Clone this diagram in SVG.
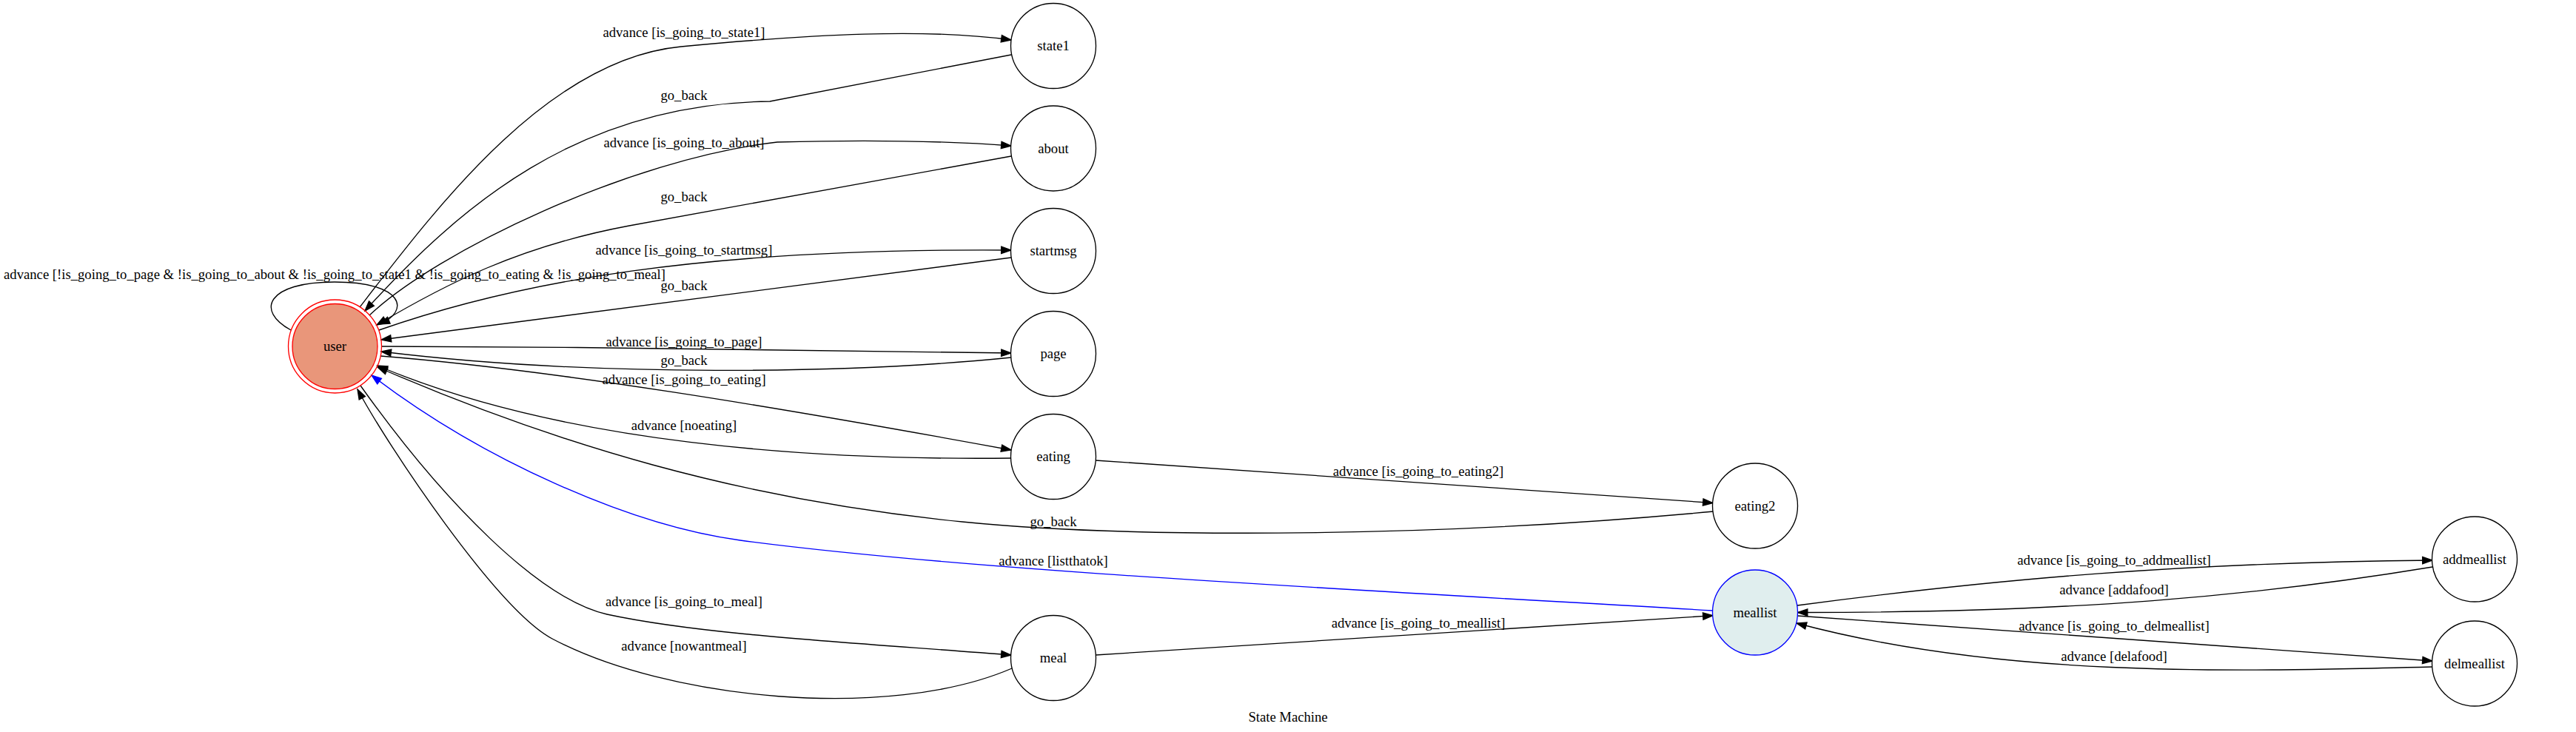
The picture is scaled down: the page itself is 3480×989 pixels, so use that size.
<svg xmlns="http://www.w3.org/2000/svg" width="3480" height="989" viewBox="0 0 3480 989">
<style>
text{font-family:"Liberation Serif","Times New Roman",serif;font-size:18.67px;fill:#000;text-anchor:middle}
.n{fill:#fff;stroke:#000;stroke-width:1.33}
.e{fill:none;stroke:#000;stroke-width:1.33;marker-end:url(#ah)}
.b{fill:none;stroke:#0000ff;stroke-width:1.33;marker-end:url(#ahb)}
</style>
<defs>
<marker id="ah" markerUnits="userSpaceOnUse" markerWidth="16" markerHeight="12" refX="13.33" refY="4.67" orient="auto" overflow="visible">
<path d="M0,0 L13.33,4.67 L0,9.33 z" fill="#000" stroke="#000" stroke-width="1.33"/>
</marker>
<marker id="ahb" markerUnits="userSpaceOnUse" markerWidth="16" markerHeight="12" refX="13.33" refY="4.67" orient="auto" overflow="visible">
<path d="M0,0 L13.33,4.67 L0,9.33 z" fill="#0000ff" stroke="#0000ff" stroke-width="1.33"/>
</marker>
</defs>
<rect x="0" y="0" width="3480" height="989" fill="#fff"/>
<g id="edges">
<path class="e" d="M486,415 C590,280 740,80 920,63 S1250,38 1366,54"/>
<text x="924" y="50">advance [is_going_to_state1]</text>
<path class="e" d="M1366,74 L1040,137 C780,140 620,280 493,420"/>
<text x="924" y="135">go_back</text>
<path class="e" d="M499,426 C590,340 850,215 1050,192 C1200,188 1300,192 1366,197"/>
<text x="924" y="199">advance [is_going_to_about]</text>
<path class="e" d="M1366,211 L850,305 C700,333 600,385 509,439"/>
<text x="924" y="272">go_back</text>
<path class="e" d="M393,446 C345,420 360,381 452,381 C545,381 555,420 513,438"/>
<text x="452" y="377">advance [!is_going_to_page &amp; !is_going_to_about &amp; !is_going_to_state1 &amp; !is_going_to_eating &amp; !is_going_to_meal]</text>
<path class="e" d="M512,446 C700,380 950,335 1366,338"/>
<text x="924" y="344">advance [is_going_to_startmsg]</text>
<path class="e" d="M1366,348 L515,459"/>
<text x="924" y="392">go_back</text>
<path class="e" d="M515,468 C800,469 1100,472 1366,477"/>
<text x="924" y="468">advance [is_going_to_page]</text>
<path class="e" d="M1366,483 C1150,505 800,510 515,475"/>
<text x="924" y="493">go_back</text>
<path class="e" d="M514,481 C750,500 1050,550 1366,608"/>
<text x="924" y="519">advance [is_going_to_eating]</text>
<path class="e" d="M1366,619 C1100,622 760,600 510,494"/>
<text x="924" y="581">advance [noeating]</text>
<path class="e" d="M2315,691 C1900,730 1500,725 1300,705 C1000,675 750,600 510,496"/>
<text x="1423" y="711">go_back</text>
<path class="e" d="M1480,622 L2314,679.5"/>
<text x="1916" y="643">advance [is_going_to_eating2]</text>
<path class="b" d="M2315,825 C1800,795 1300,770 1000,730 C850,710 650,620 502,507"/>
<text x="1423" y="764">advance [listthatok]</text>
<path class="e" d="M487,521 C600,680 730,810 820,830 C950,858 1150,868 1366,885"/>
<text x="924" y="819">advance [is_going_to_meal]</text>
<path class="e" d="M1367,903 C1200,975 900,945 746,863 C671,823 523,601 483,526"/>
<text x="924" y="879">advance [nowantmeal]</text>
<path class="e" d="M1480,885 L2314,831.7"/>
<text x="1916" y="848">advance [is_going_to_meallist]</text>
<path class="e" d="M2428,818 C2700,782 2950,760 3286,757"/>
<text x="2856" y="763">advance [is_going_to_addmeallist]</text>
<path class="e" d="M3286,766 C3050,805 2800,828 2428.5,827.5"/>
<text x="2856" y="803">advance [addafood]</text>
<path class="e" d="M2428,832 L3286,893"/>
<text x="2856" y="852">advance [is_going_to_delmeallist]</text>
<path class="e" d="M3286,901 C3000,908 2700,915 2427,842"/>
<text x="2856" y="893">advance [delafood]</text>
</g>
<g id="user">
<circle cx="452.5" cy="468" r="63" fill="none" stroke="#ff0000" stroke-width="1.33"/>
<circle cx="452.5" cy="468" r="57.5" fill="#e9967a" stroke="#ff0000" stroke-width="1.33"/>
<text x="452.5" y="474">user</text>
</g>
<g id="state1"><circle class="n" cx="1423" cy="62" r="57.5"/><text x="1423" y="68">state1</text></g>
<g id="about"><circle class="n" cx="1423" cy="200.5" r="57.5"/><text x="1423" y="206.5">about</text></g>
<g id="startmsg"><circle class="n" cx="1423" cy="339" r="57.5"/><text x="1423" y="345">startmsg</text></g>
<g id="page"><circle class="n" cx="1423" cy="478" r="57.5"/><text x="1423" y="484">page</text></g>
<g id="eating"><circle class="n" cx="1423" cy="617" r="57.5"/><text x="1423" y="623">eating</text></g>
<g id="meal"><circle class="n" cx="1423" cy="889" r="57.5"/><text x="1423" y="895">meal</text></g>
<g id="eating2"><circle class="n" cx="2371" cy="683.5" r="57.5"/><text x="2371" y="689.5">eating2</text></g>
<g id="meallist"><circle cx="2371" cy="827.5" r="57.5" fill="#e0eeee" stroke="#0000ff" stroke-width="1.33"/><text x="2371" y="833.5">meallist</text></g>
<g id="addmeallist"><circle class="n" cx="3343" cy="755.5" r="57.5"/><text x="3343" y="761.5">addmeallist</text></g>
<g id="delmeallist"><circle class="n" cx="3343" cy="896.5" r="57.5"/><text x="3343" y="902.5">delmeallist</text></g>
<text x="1740" y="975">State Machine</text>
</svg>
